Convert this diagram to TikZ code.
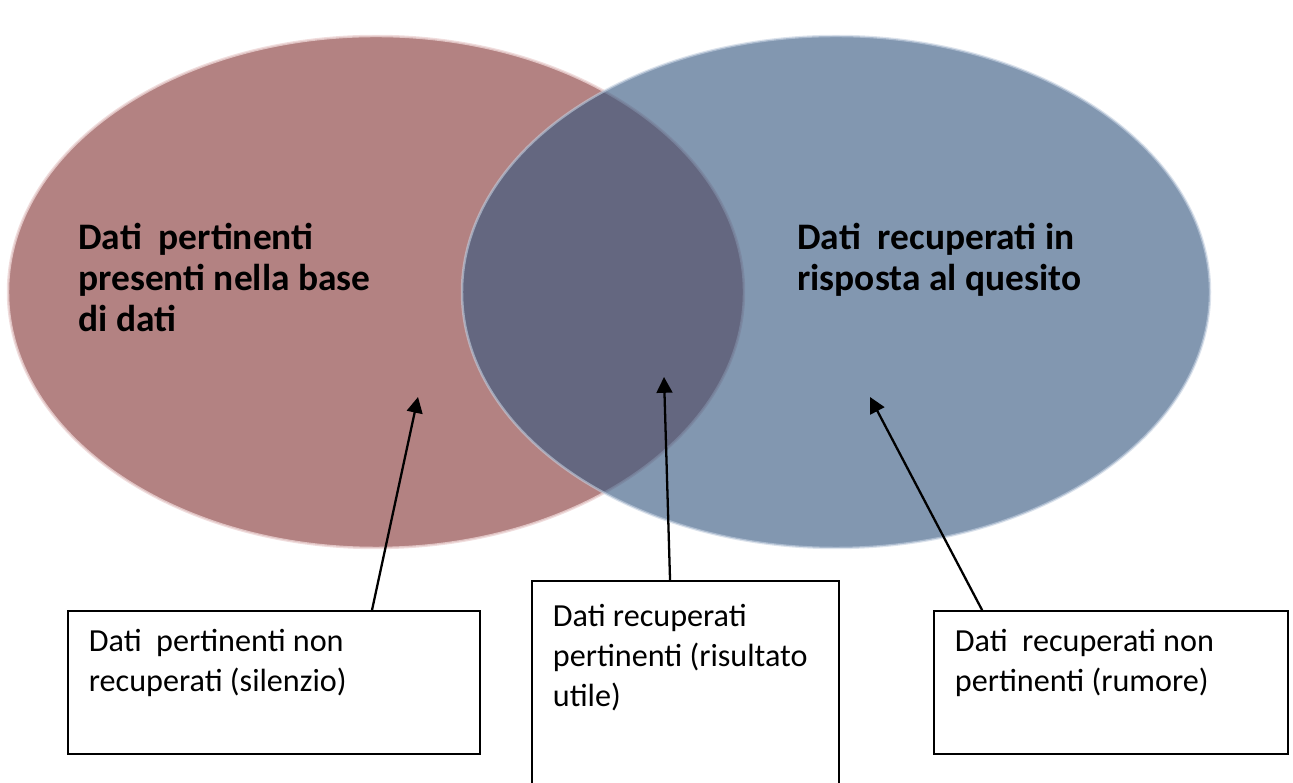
\documentclass[tikz,border=0pt]{standalone}
\usepackage{fontspec}
\setmainfont{Carlito}
\usepackage{tkz-euclide}
\usetikzlibrary{arrows.meta}
\definecolor{rosa}{RGB}{179,130,130}
\definecolor{rosarim}{RGB}{236,212,212}
\definecolor{blu}{RGB}{53,87,128}
\definecolor{blurim}{RGB}{196,208,224}

\begin{document}
\begin{tikzpicture}[x=0.02cm,y=0.02cm,
    infobox/.style={draw,line width=1.1pt,rectangle,inner sep=0pt},
    infotext/.style={align=left,anchor=north west,inner xsep=0.43cm,inner ysep=0.38cm,
      font=\fontsize{18.3}{22.7}\selectfont},
    titletext/.style={align=left,anchor=north west,inner sep=0pt,
      font=\bfseries\fontsize{21.3}{23.2}\selectfont},
    freccia/.style={line width=1.3pt,-{Triangle[length=9pt,width=9pt]}}]
  \useasboundingbox (0,0) rectangle (1293,783);
  \tkzDefPoints{376/491/L,836/491/R}
  % the two sets
  \fill[rosa] (L) ellipse [x radius=368,y radius=256];
  \draw[rosarim,line width=1.4pt,draw opacity=0.8] (L) ellipse [x radius=368,y radius=256];
  \fill[blu,fill opacity=0.62] (R) ellipse [x radius=374,y radius=256];
  \draw[blurim,line width=1.4pt,draw opacity=0.6] (R) ellipse [x radius=374,y radius=256];
  \node[titletext] (pertinenti) at (78,560) {Dati\ \ pertinenti\\presenti nella base\\di dati};
  \node[titletext] (recuperati) at (797,560) {Dati\ \ recuperati in\\risposta al quesito};
  % the three boxes
  \node[infobox,minimum width=8.24cm,minimum height=2.86cm] (silenzio) at (274,100.5) {};
  \node[infotext] at (silenzio.north west) {Dati\ \ pertinenti non\\recuperati (silenzio)};
  \node[infobox,minimum width=6.14cm,minimum height=4.18cm] (utile) at (685.5,97.5) {};
  \node[infotext,inner ysep=0.48cm] at (utile.north west) {Dati recuperati\\pertinenti (risultato\\utile)};
  \node[infobox,minimum width=7.08cm,minimum height=2.86cm] (rumore) at (1111,100.5) {};
  \node[infotext] at (rumore.north west) {Dati\ \ recuperati non\\pertinenti (rumore)};
  % arrows
  \coordinate (a1) at ([xshift=6.1cm]silenzio.north west);
  \coordinate (a2) at ([xshift=2.78cm]utile.north west);
  \coordinate (a3) at ([xshift=0.98cm]rumore.north west);
  \tkzDefPoints{418/386/P,664/406/U,870/386/N}
  \tkzDrawSegments[freccia](a1,P a2,U a3,N)
\end{tikzpicture}
\end{document}
